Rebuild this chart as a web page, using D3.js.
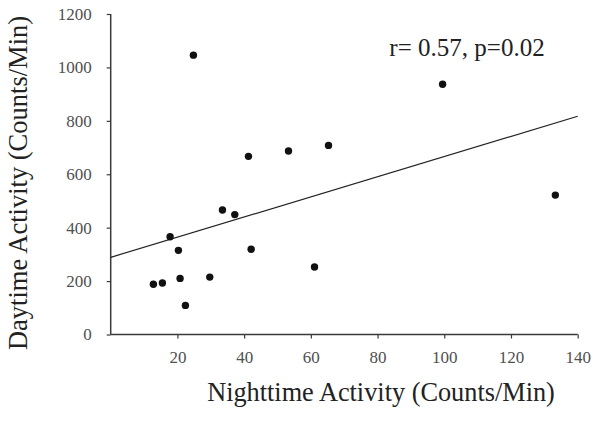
<!DOCTYPE html>
<html>
<head>
<meta charset="utf-8">
<script src="https://cdnjs.cloudflare.com/ajax/libs/d3/7.8.5/d3.min.js"></script>
<style>
  html, body { margin: 0; padding: 0; background: #fff; }
  svg { display: block; }
  svg text { font-family: 'Liberation Serif', 'Times New Roman', serif; }
</style>
</head>
<body>
<svg id="chart" width="600" height="428"></svg>
<script>
// Data
const nighttime = [24.8, 41.3, 53.3, 65.3, 33.5, 37.2, 17.8, 20.3, 42.1, 61.1, 12.8, 15.5, 20.8, 29.7, 22.4, 99.5, 133.3];
const daytime   = [1046, 667, 687, 708, 466, 449, 366, 315, 319, 253, 188, 193, 210, 215, 109, 937, 522];
const fitX = [0, 140];
const fitY = [289, 817];
const xTicks = [20, 40, 60, 80, 100, 120, 140];
const yTicks = [0, 200, 400, 600, 800, 1000, 1200];
const annotation = "r= 0.57, p=0.02";
const xTitle = "Nighttime Activity (Counts/Min)";
const yTitle = "Daytime Activity (Counts/Min)";

const svg = d3.select("#chart");
const font = "Liberation Serif";
const axisColor = "#3a3a3a";
const textColor = "#505050";

const x = d3.scaleLinear().domain([0, 140]).range([110.7, 577.7]);
const y = d3.scaleLinear().domain([0, 1200]).range([334.5, 14]);

// Y axis
const yAxis = svg.append("g")
  .attr("transform", `translate(${x(0)},0)`)
  .call(d3.axisLeft(y).tickValues(yTicks).tickSize(4).tickPadding(15).tickFormat(d3.format("d")));
// X axis
const xAxis = svg.append("g")
  .attr("transform", `translate(0,${y(0)})`)
  .call(d3.axisBottom(x).tickValues(xTicks).tickSize(4).tickPadding(12).tickFormat(d3.format("d")));

[xAxis, yAxis].forEach(g => {
  g.attr("font-family", font).attr("font-size", 17);
  g.select(".domain").attr("stroke", axisColor).attr("stroke-width", 1.5);
  g.selectAll(".tick line").attr("stroke", axisColor).attr("stroke-width", 1.2);
  g.selectAll(".tick text").attr("fill", textColor)
    .attr("font-family", font).attr("font-size", 17);
});
xAxis.select(".domain").attr("d", `M${x(0)},0H${x(140)}`);
yAxis.select(".domain").attr("d", `M0,${y(0)}V${y(1200)}`);

// Regression line
svg.append("line")
  .attr("x1", x(fitX[0])).attr("y1", y(fitY[0]))
  .attr("x2", x(fitX[1])).attr("y2", y(fitY[1]))
  .attr("stroke", "#222").attr("stroke-width", 1.2);

// Points
svg.append("g").selectAll("circle")
  .data(nighttime.map((v, i) => ({ x: v, y: daytime[i] })))
  .join("circle")
  .attr("cx", d => x(d.x))
  .attr("cy", d => y(d.y))
  .attr("r", 3.7)
  .attr("fill", "#111");

// Annotation
svg.append("text")
  .attr("x", 467).attr("y", 56)
  .attr("text-anchor", "middle")
  .attr("fill", "#222")
  .attr("font-family", font).attr("font-size", 25)
  .text(annotation);

// Axis titles
svg.append("text")
  .attr("x", 381).attr("y", 401)
  .attr("text-anchor", "middle")
  .attr("fill", "#222")
  .attr("font-family", font).attr("font-size", 26.3)
  .text(xTitle);

svg.append("text")
  .attr("transform", "translate(27,183) rotate(-90)")
  .attr("text-anchor", "middle")
  .attr("fill", "#222")
  .attr("font-family", font).attr("font-size", 26.5)
  .text(yTitle);
</script>
</body>
</html>
